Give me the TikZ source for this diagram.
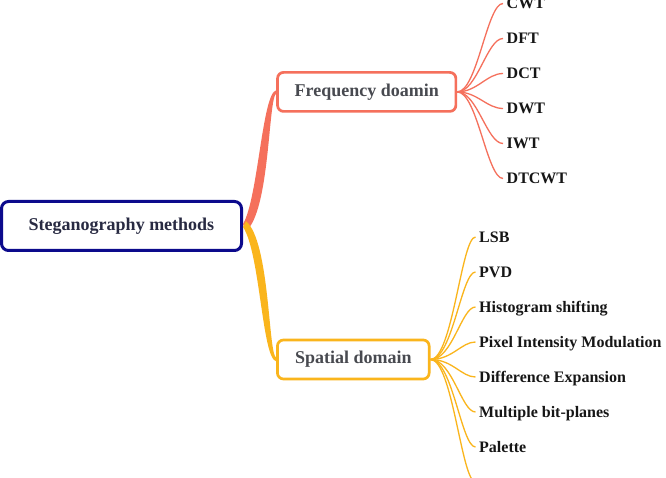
\documentclass[tikz,border=0pt]{standalone}
\usepackage{fontspec}
\setmainfont{Liberation Serif}
\usetikzlibrary{calc}
\definecolor{coral}{RGB}{245,112,92}
\definecolor{gold}{RGB}{250,181,28}
\definecolor{navy}{RGB}{12,10,140}
\definecolor{roottext}{RGB}{40,42,66}
\definecolor{branchtext}{RGB}{72,74,80}
\definecolor{leaftext}{RGB}{22,22,22}
\begin{document}
\begin{tikzpicture}[x=1pt,y=-1pt,
  rootbox/.style={draw=navy, line width=3pt, rounded corners=7pt, fill=white,
    minimum width=240pt, minimum height=49pt, inner sep=0pt,
    font=\bfseries\fontsize{18}{20}\selectfont, text=roottext},
  branchbox/.style={draw=#1, line width=2.7pt, rounded corners=6pt, fill=white,
    minimum height=39pt, inner sep=0pt,
    font=\bfseries\fontsize{18}{20}\selectfont, text=branchtext},
  leaf/.style={anchor=west, inner xsep=3.5pt, inner ysep=0pt,
    text height=10.7pt, text depth=0pt,
    font=\bfseries\fontsize{16}{18}\selectfont, text=leaftext},
  leafline/.style={draw=#1, line width=1.3pt}]
\useasboundingbox (0,0) rectangle (666,478);
\fill[white] (0,0) rectangle (666,478);
\clip (0,0) rectangle (666,478);

% main nodes
\node[rootbox] (root) at (121.5,226) {Steganography methods};
\node[branchbox=coral, minimum width=178.3pt] (freq) at (366.7,91.9) {Frequency doamin};
\node[branchbox=gold, minimum width=151.7pt] (spat) at (353.3,359.5) {Spatial domain};

% main tapered branches
\fill[coral] ($(root.east)+(0,-2)$) .. controls +(15,-25) and +(-14,3) .. ($(freq.west)+(0,-1.6)$)
  -- ($(freq.west)+(0,1.6)$) .. controls +(-8,5) and +(24,-20) .. ($(root.east)+(3,5)$) -- cycle;
\fill[gold] ($(root.east)+(0,1)$) .. controls +(17,25) and +(-14,-3) .. ($(spat.west)+(0,1.8)$)
  -- ($(spat.west)+(0,-1.8)$) .. controls +(-8,-5) and +(24,21) .. ($(root.east)+(3,-5)$) -- cycle;

% frequency leaves
\foreach \n/\t/\y in {f1/CWT/3.5, f2/DFT/38.5, f3/DCT/73.5, f4/DWT/108.5, f5/IWT/143.5, f6/DTCWT/178.5}{
  \node[leaf] (\n) at (503,\y) {\t};
  \draw[leafline=coral] (freq.east) .. controls +(20,0) and +(-16,0) .. (\n.west);
}

% spatial leaves
\foreach \n/\t/\y in {s1/LSB/237, s2/PVD/272, s3/Histogram shifting/307, s4/Pixel Intensity Modulation/342,
  s5/Difference Expansion/377, s6/Multiple bit-planes/412, s7/Palette/447}{
  \node[leaf] (\n) at (475.5,\y) {\t};
  \draw[leafline=gold] (spat.east) .. controls +(22,0) and +(-14,0) .. (\n.west);
}
\coordinate (s8) at (475.5,482);
\draw[leafline=gold] (spat.east) .. controls +(22,0) and +(-14,0) .. (s8);
\end{tikzpicture}
\end{document}
